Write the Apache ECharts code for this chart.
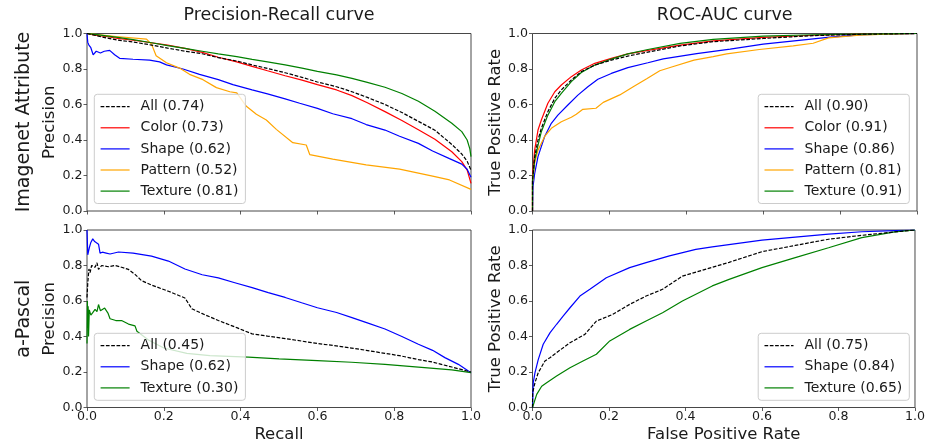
<!DOCTYPE html>
<html><head><meta charset="utf-8">
<script src="https://cdn.jsdelivr.net/npm/echarts@6/dist/echarts.min.js"></script>
<style>html,body{margin:0;padding:0;background:#fff}#c{width:928px;height:447px}</style>
</head><body><div id="c"></div><script>
// ---------- Data ----------
const tickValues = [0, 0.2, 0.4, 0.6, 0.8, 1.0];
const panelTitles = ['Precision-Recall curve', 'ROC-AUC curve'];
const rowLabels = ['Imagenet Attribute', 'a-Pascal'];

// Imagenet Attribute – Precision-Recall  [recall, precision]
const imgPR_All = [[0,1],[0.02,0.99],[0.05,0.975],[0.08,0.963],[0.12,0.952],[0.168,0.935],[0.21,0.918],[0.255,0.9],[0.3,0.886],[0.342,0.864],[0.39,0.845],[0.43,0.823],[0.47,0.803],[0.516,0.779],[0.56,0.753],[0.6,0.727],[0.65,0.7],[0.69,0.672],[0.73,0.64],[0.776,0.6],[0.82,0.555],[0.863,0.505],[0.906,0.455],[0.95,0.375],[0.976,0.321],[0.99,0.28],[1.0,0.23]];
const imgPR_Color = [[0,1],[0.02,0.99],[0.05,0.983],[0.08,0.973],[0.12,0.962],[0.168,0.948],[0.21,0.935],[0.255,0.916],[0.3,0.894],[0.342,0.866],[0.39,0.84],[0.43,0.815],[0.47,0.79],[0.516,0.762],[0.56,0.737],[0.6,0.712],[0.65,0.682],[0.69,0.65],[0.73,0.61],[0.776,0.56],[0.82,0.51],[0.863,0.458],[0.906,0.404],[0.95,0.334],[0.976,0.278],[0.99,0.23],[1.0,0.156]];
const imgPR_Shape = [[0,1],[0.002,0.95],[0.005,0.935],[0.01,0.92],[0.016,0.88],[0.024,0.9],[0.035,0.89],[0.045,0.9],[0.059,0.905],[0.072,0.88],[0.085,0.86],[0.12,0.855],[0.163,0.85],[0.189,0.84],[0.207,0.823],[0.25,0.8],[0.293,0.77],[0.342,0.74],[0.38,0.712],[0.43,0.682],[0.47,0.66],[0.516,0.632],[0.554,0.607],[0.6,0.578],[0.64,0.548],[0.69,0.52],[0.727,0.487],[0.776,0.456],[0.814,0.421],[0.863,0.381],[0.9,0.338],[0.944,0.295],[0.976,0.264],[0.99,0.235],[1.0,0.19]];
const imgPR_Pattern = [[0,1],[0.076,0.983],[0.155,0.968],[0.168,0.94],[0.18,0.875],[0.207,0.835],[0.241,0.805],[0.267,0.77],[0.302,0.74],[0.337,0.695],[0.372,0.672],[0.39,0.665],[0.415,0.59],[0.441,0.545],[0.467,0.513],[0.493,0.46],[0.536,0.385],[0.571,0.372],[0.58,0.318],[0.64,0.292],[0.727,0.26],[0.814,0.236],[0.9,0.196],[0.944,0.175],[1.0,0.122]];
const imgPR_Texture = [[0,1],[0.02,0.995],[0.05,0.987],[0.08,0.978],[0.12,0.965],[0.168,0.948],[0.21,0.932],[0.255,0.916],[0.3,0.9],[0.342,0.885],[0.39,0.87],[0.43,0.854],[0.47,0.84],[0.516,0.823],[0.56,0.805],[0.6,0.787],[0.65,0.767],[0.69,0.747],[0.73,0.725],[0.776,0.697],[0.82,0.662],[0.863,0.618],[0.906,0.562],[0.95,0.494],[0.976,0.447],[0.99,0.4],[0.997,0.35],[1.0,0.306]];

// Imagenet Attribute – ROC  [FPR, TPR]
const imgROC_All = [[0,0],[0,0.17],[0.0056,0.306],[0.0143,0.4],[0.023,0.466],[0.04,0.56],[0.058,0.635],[0.075,0.682],[0.101,0.738],[0.127,0.785],[0.162,0.822],[0.205,0.85],[0.248,0.873],[0.3,0.895],[0.384,0.93],[0.47,0.954],[0.6,0.972],[0.73,0.988],[0.86,0.996],[1,1]];
const imgROC_Color = [[0,0],[0,0.2],[0.0056,0.343],[0.0143,0.456],[0.023,0.513],[0.04,0.607],[0.058,0.672],[0.075,0.71],[0.101,0.757],[0.127,0.794],[0.162,0.832],[0.205,0.86],[0.248,0.885],[0.3,0.905],[0.384,0.935],[0.47,0.958],[0.6,0.978],[0.73,0.99],[0.86,0.996],[1,1]];
const imgROC_Shape = [[0,0],[0.0013,0.137],[0.0056,0.21],[0.0143,0.306],[0.0316,0.42],[0.049,0.494],[0.066,0.54],[0.092,0.597],[0.118,0.653],[0.144,0.7],[0.17,0.742],[0.205,0.775],[0.248,0.808],[0.3,0.835],[0.34,0.857],[0.427,0.887],[0.514,0.912],[0.6,0.94],[0.687,0.96],[0.774,0.98],[0.861,0.994],[1,1]];
const imgROC_Pattern = [[0,0],[0,0.156],[0.0056,0.27],[0.0143,0.343],[0.0316,0.42],[0.049,0.466],[0.075,0.503],[0.101,0.528],[0.114,0.545],[0.131,0.573],[0.165,0.579],[0.184,0.612],[0.227,0.654],[0.262,0.7],[0.297,0.745],[0.331,0.79],[0.36,0.81],[0.42,0.85],[0.47,0.87],[0.505,0.885],[0.59,0.91],[0.678,0.93],[0.73,0.945],[0.77,0.975],[0.85,0.99],[0.92,0.997],[1,1]];
const imgROC_Texture = [[0,0],[0,0.17],[0.0056,0.287],[0.0143,0.37],[0.023,0.447],[0.04,0.54],[0.058,0.616],[0.075,0.663],[0.101,0.729],[0.127,0.78],[0.162,0.822],[0.205,0.856],[0.248,0.885],[0.3,0.91],[0.384,0.944],[0.47,0.967],[0.6,0.985],[0.73,0.993],[0.86,0.997],[1,1]];

// a-Pascal – Precision-Recall
const pasPR_All = [[0,0.62],[0.002,0.7],[0.005,0.78],[0.008,0.76],[0.012,0.8],[0.016,0.81],[0.021,0.79],[0.026,0.815],[0.03,0.778],[0.038,0.8],[0.056,0.793],[0.073,0.8],[0.09,0.79],[0.108,0.778],[0.125,0.75],[0.142,0.715],[0.168,0.69],[0.212,0.655],[0.255,0.617],[0.273,0.556],[0.299,0.53],[0.342,0.49],[0.39,0.45],[0.43,0.415],[0.47,0.402],[0.516,0.388],[0.56,0.374],[0.602,0.36],[0.64,0.35],[0.689,0.335],[0.727,0.322],[0.776,0.305],[0.814,0.292],[0.863,0.27],[0.9,0.256],[0.95,0.228],[1.0,0.2]];
const pasPR_Shape = [[0,1.0],[0.002,0.86],[0.006,0.9],[0.01,0.93],[0.015,0.95],[0.02,0.935],[0.025,0.94],[0.03,0.92],[0.034,0.87],[0.04,0.875],[0.05,0.87],[0.06,0.865],[0.082,0.876],[0.12,0.87],[0.168,0.853],[0.212,0.825],[0.255,0.78],[0.3,0.748],[0.342,0.73],[0.385,0.703],[0.43,0.675],[0.472,0.647],[0.516,0.62],[0.559,0.59],[0.6,0.562],[0.65,0.535],[0.69,0.506],[0.73,0.477],[0.776,0.442],[0.82,0.4],[0.863,0.356],[0.9,0.322],[0.932,0.281],[0.967,0.243],[1.0,0.196]];
const pasPR_Texture = [[0,0.36],[0.001,0.6],[0.002,0.45],[0.003,0.57],[0.004,0.4],[0.006,0.55],[0.01,0.52],[0.015,0.535],[0.021,0.553],[0.026,0.54],[0.03,0.58],[0.035,0.545],[0.04,0.545],[0.046,0.56],[0.051,0.555],[0.055,0.53],[0.06,0.5],[0.075,0.49],[0.09,0.49],[0.108,0.47],[0.125,0.46],[0.13,0.43],[0.134,0.42],[0.16,0.38],[0.2,0.335],[0.26,0.305],[0.32,0.292],[0.42,0.284],[0.5,0.274],[0.6,0.264],[0.689,0.255],[0.776,0.243],[0.863,0.228],[0.95,0.212],[1.0,0.196]];

// a-Pascal – ROC
const pasROC_All = [[0,0],[0.0004,0.083],[0.0065,0.14],[0.015,0.196],[0.0325,0.262],[0.0455,0.28],[0.063,0.309],[0.098,0.365],[0.137,0.412],[0.167,0.487],[0.21,0.525],[0.254,0.581],[0.297,0.628],[0.34,0.666],[0.392,0.74],[0.47,0.79],[0.514,0.818],[0.6,0.878],[0.687,0.913],[0.774,0.948],[0.861,0.97],[0.947,0.989],[1,1]];
const pasROC_Shape = [[0,0],[0.002,0.14],[0.0065,0.196],[0.015,0.27],[0.028,0.356],[0.046,0.422],[0.063,0.469],[0.08,0.515],[0.098,0.562],[0.124,0.628],[0.15,0.666],[0.193,0.731],[0.254,0.788],[0.297,0.816],[0.358,0.854],[0.427,0.891],[0.47,0.905],[0.6,0.943],[0.687,0.96],[0.774,0.977],[0.861,0.99],[0.947,0.996],[1,1]];
const pasROC_Texture = [[0,0],[0.0004,0.008],[0.011,0.074],[0.024,0.12],[0.037,0.14],[0.063,0.177],[0.098,0.224],[0.132,0.262],[0.167,0.3],[0.202,0.375],[0.254,0.44],[0.297,0.487],[0.34,0.534],[0.392,0.6],[0.47,0.685],[0.514,0.722],[0.6,0.788],[0.687,0.844],[0.774,0.9],[0.861,0.957],[0.947,0.989],[1,1]];

// Legend names (curve label with AUC / AP)
const imgPR_Names = ['All (0.74)', 'Color (0.73)', 'Shape (0.62)', 'Pattern (0.52)', 'Texture (0.81)'];
const imgROC_Names = ['All (0.90)', 'Color (0.91)', 'Shape (0.86)', 'Pattern (0.81)', 'Texture (0.91)'];
const pasPR_Names = ['All (0.45)', 'Shape (0.62)', 'Texture (0.30)'];
const pasROC_Names = ['All (0.75)', 'Shape (0.84)', 'Texture (0.65)'];

// ---------- Styling ----------
const FONT = 'DejaVu Sans';
const TXT = '#1a1a1a';
const colors = {All: '#000000', Color: '#ff0000', Shape: '#0000ff', Pattern: '#ffa500', Texture: '#008000'};

const grids = [
  {left: 87, top: 33.5, width: 384, height: 177.5},
  {left: 532.5, top: 33.5, width: 384.5, height: 177.5},
  {left: 87, top: 230, width: 384, height: 177.5},
  {left: 532.5, top: 230, width: 384.5, height: 177.5}
];

const panels = [
  {names: imgPR_Names, data: [imgPR_All, imgPR_Color, imgPR_Shape, imgPR_Pattern, imgPR_Texture]},
  {names: imgROC_Names, data: [imgROC_All, imgROC_Color, imgROC_Shape, imgROC_Pattern, imgROC_Texture]},
  {names: pasPR_Names, data: [pasPR_All, pasPR_Shape, pasPR_Texture]},
  {names: pasROC_Names, data: [pasROC_All, pasROC_Shape, pasROC_Texture]}
];

const fmt = v => Number(v).toFixed(1);

const xAxes = grids.map((g, i) => ({
  gridIndex: i, type: 'value', min: 0, max: 1, interval: 0.2,
  name: i === 2 ? 'Recall' : (i === 3 ? 'False Positive Rate' : ''),
  nameLocation: 'middle', nameGap: 19,
  nameTextStyle: {fontFamily: FONT, fontSize: 16.5, color: TXT},
  axisLine: {show: false},
  axisTick: {show: true, length: 3.5, lineStyle: {color: '#333', width: 0.8}},
  axisLabel: {show: i >= 2, margin: 3, fontFamily: FONT, fontSize: 12.6, color: TXT, formatter: fmt},
  splitLine: {show: false}
}));
const yAxes = grids.map((g, i) => ({
  gridIndex: i, type: 'value', min: 0, max: 1, interval: 0.2,
  name: (i % 2 === 0) ? 'Precision' : 'True Positive Rate',
  nameLocation: 'middle', nameRotate: 90, nameGap: 26.5,
  nameTextStyle: {fontFamily: FONT, fontSize: 16.5, color: TXT},
  axisLine: {show: false},
  axisTick: {show: true, length: 3.5, lineStyle: {color: '#333', width: 0.8}},
  axisLabel: {show: true, margin: 4.5, fontFamily: FONT, fontSize: 12.6, color: TXT, formatter: fmt},
  splitLine: {show: false}
}));

const series = [];
panels.forEach((p, i) => {
  p.names.forEach((nm, k) => {
    const key = nm.split(' ')[0];
    series.push({
      name: nm, type: 'line', xAxisIndex: i, yAxisIndex: i,
      data: p.data[k], showSymbol: false, symbol: 'none', smooth: false,
      lineStyle: {color: colors[key], width: 1.2, type: key === 'All' ? [3.7, 1.6] : 'solid'},
      itemStyle: {color: colors[key]},
      z: key === 'All' ? 3 : 2,
      silent: true, animation: false
    });
  });
});

const legendBase = {
  orient: 'vertical', selectedMode: false,
  itemWidth: 29, itemHeight: 14, itemGap: 7.1,
  padding: [5.4, 7, 5.4, 5.7],
  backgroundColor: 'rgba(255,255,255,0.8)',
  borderColor: '#cccccc', borderWidth: 1, borderRadius: 3,
  itemStyle: {opacity: 0, color: 'transparent', borderWidth: 0},
  lineStyle: {width: 1.2},
  textStyle: {fontFamily: FONT, fontSize: 14, color: TXT, padding: [0, 0, 0, 6]},
  z: 10
};
const legends = [
  Object.assign({}, legendBase, {data: imgPR_Names, left: 94.3, top: 94.3}),
  Object.assign({}, legendBase, {data: imgROC_Names, right: 18.7, top: 94.3}),
  Object.assign({}, legendBase, {data: pasPR_Names, left: 94.3, top: 333.3}),
  Object.assign({}, legendBase, {data: pasROC_Names, right: 18.7, top: 333.3})
];

const graphics = [
  {type: 'text', x: 279, y: 15.5, style: {text: panelTitles[0], font: '17.5px "' + FONT + '"', fill: TXT, textAlign: 'center', textVerticalAlign: 'middle'}},
  {type: 'text', x: 724.7, y: 15.5, style: {text: panelTitles[1], font: '17.5px "' + FONT + '"', fill: TXT, textAlign: 'center', textVerticalAlign: 'middle'}},
  {type: 'text', x: 24, y: 122, rotation: Math.PI / 2, style: {text: rowLabels[0], font: '19px "' + FONT + '"', fill: TXT, textAlign: 'center', textVerticalAlign: 'middle'}},
  {type: 'text', x: 24, y: 318.7, rotation: Math.PI / 2, style: {text: rowLabels[1], font: '19px "' + FONT + '"', fill: TXT, textAlign: 'center', textVerticalAlign: 'middle'}}
];

const chart = echarts.init(document.getElementById('c'), null, {renderer: 'canvas'});
chart.setOption({
  animation: false,
  backgroundColor: '#ffffff',
  textStyle: {fontFamily: FONT},
  grid: grids.map(g => Object.assign({show: true, borderColor: '#333', borderWidth: 0.9, backgroundColor: 'transparent', containLabel: false}, g)),
  xAxis: xAxes,
  yAxis: yAxes,
  legend: legends,
  graphic: graphics,
  series: series
});
</script></body></html>
